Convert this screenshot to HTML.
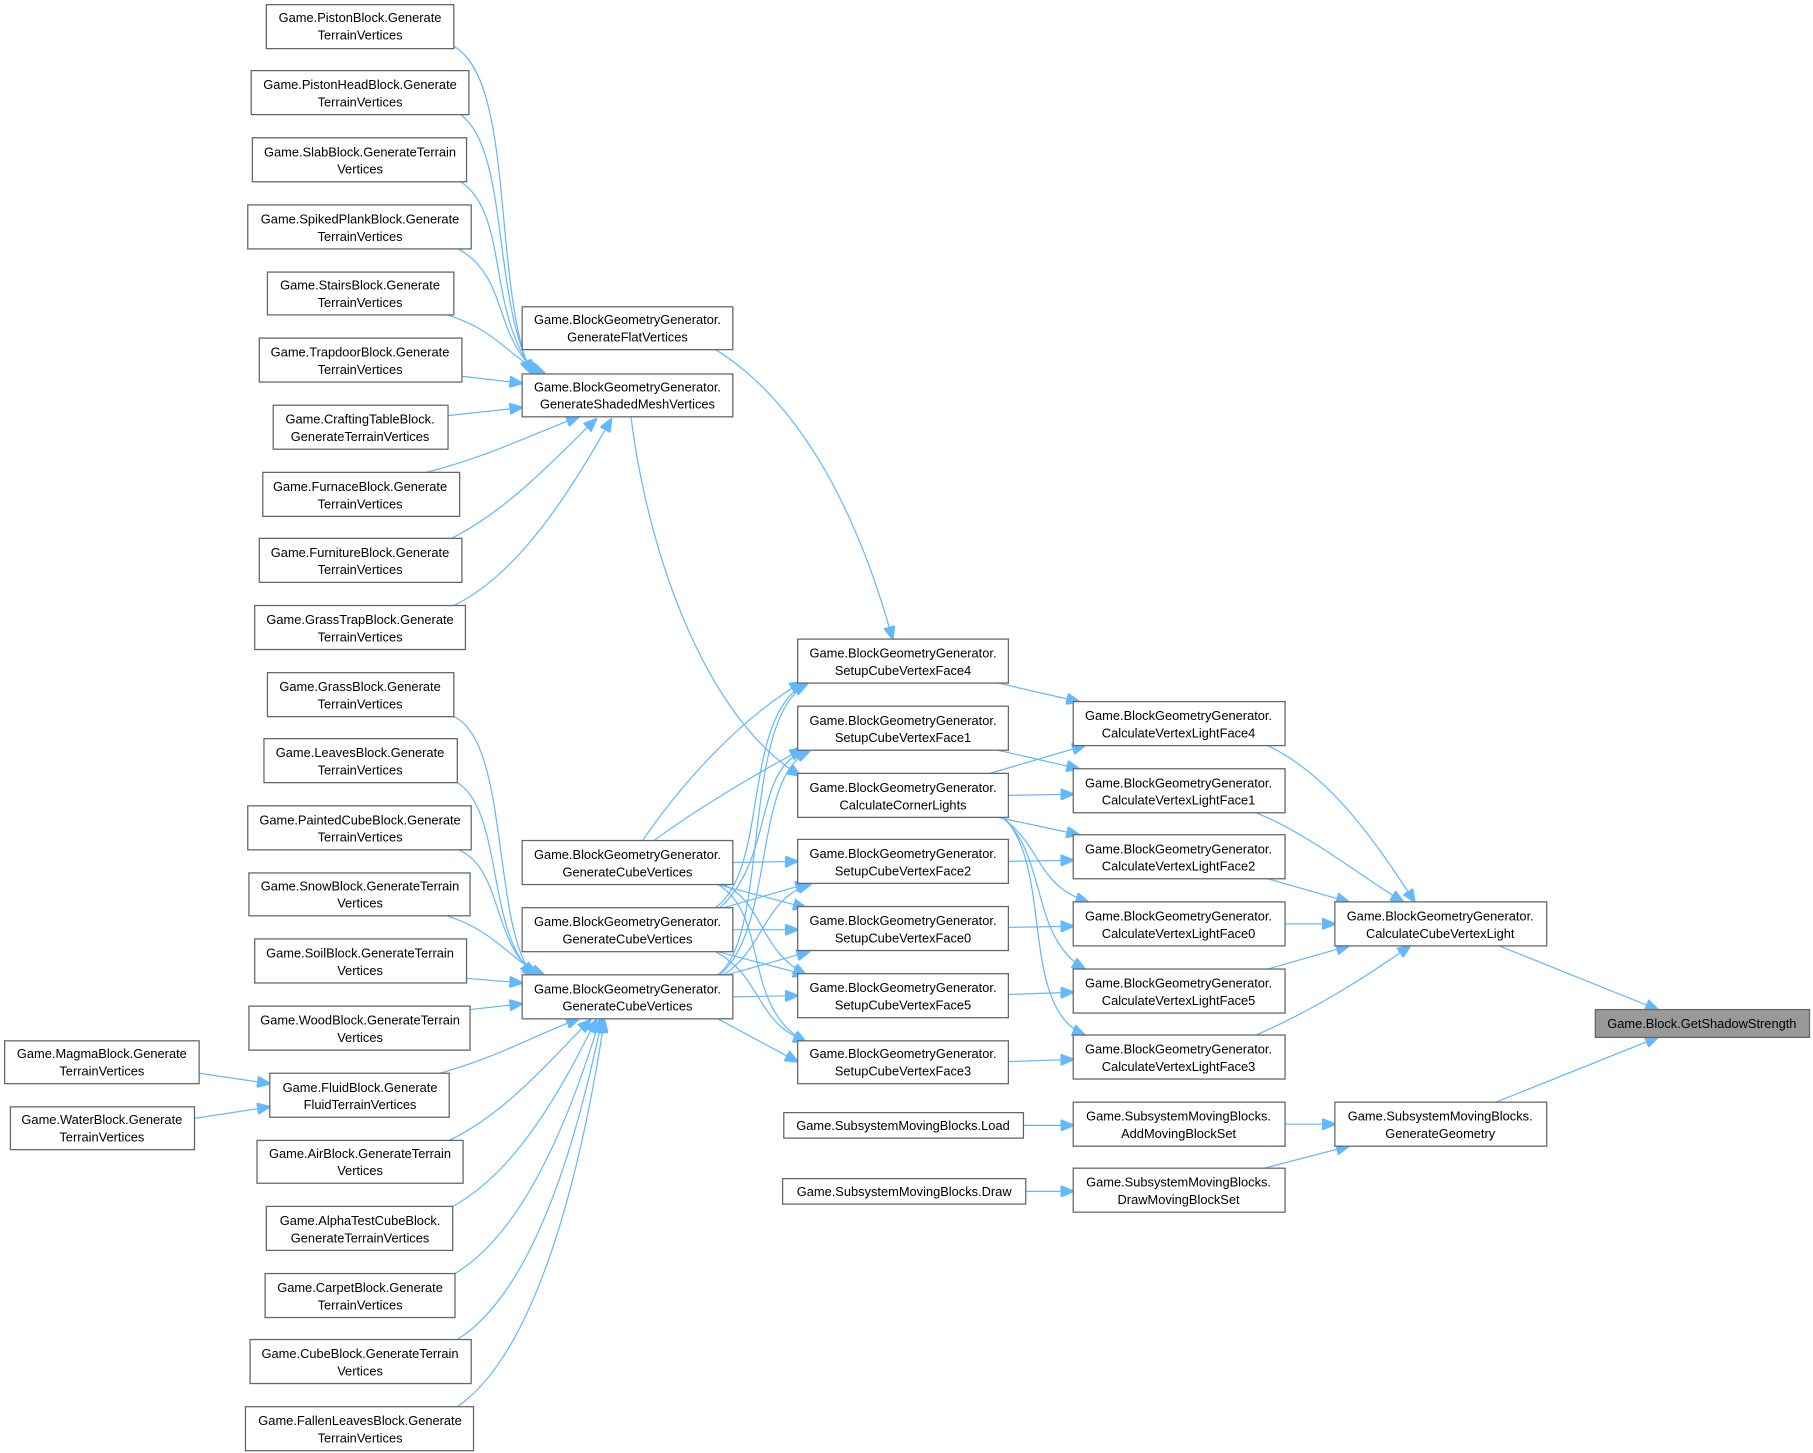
<!DOCTYPE html>
<html><head><meta charset="utf-8"><style>
html,body{margin:0;padding:0;background:#fff;}
svg{display:block;}
text{font-family:"Liberation Sans",Arial,sans-serif;font-size:11.1px;fill:#000;text-anchor:middle;}
.n{fill:#fff;stroke:#666;stroke-width:1.1;}
.e{fill:none;stroke:#63b8ff;stroke-width:1.05;}
</style></head><body>
<svg width="1813" height="1453" viewBox="0 0 1566 1255" preserveAspectRatio="none" xmlns="http://www.w3.org/2000/svg">
<defs>
<marker id="a" markerWidth="12" markerHeight="10" refX="11" refY="5" orient="auto" markerUnits="userSpaceOnUse">
<path d="M0,0 L12,5 L0,10 Z" fill="#63b8ff" stroke="#63b8ff"/>
</marker>
</defs>
<g class="edges">
<!-- into ShadedMesh -->
<path class="e" marker-end="url(#a)" d="M392,40 C445,70 425,240 458,322"/>
<path class="e" marker-end="url(#a)" d="M398,99 C440,130 425,260 460,322"/>
<path class="e" marker-end="url(#a)" d="M398,157 C440,185 420,270 462,322"/>
<path class="e" marker-end="url(#a)" d="M396,215 C440,240 425,290 465,322"/>
<path class="e" marker-end="url(#a)" d="M386,272 C430,285 440,310 470,322"/>
<path class="e" d="M399,325 L451,331" marker-end="url(#a)"/>
<path class="e" d="M387,359 L451,352" marker-end="url(#a)"/>
<path class="e" d="M368,408 C420,395 460,375 500,360" marker-end="url(#a)"/>
<path class="e" d="M390,465 C440,440 480,395 515,362" marker-end="url(#a)"/>
<path class="e" d="M392,523 C450,495 495,420 528,362" marker-end="url(#a)"/>
<!-- ShadedMesh -> CornerLights, Flat -> Face4 -->
<path class="e" d="M545,360 C560,480 610,620 691,670" marker-end="url(#a)"/>
<path class="e" d="M615,300 C690,345 740,440 771,552" marker-end="url(#a)"/>
<!-- into GCV C -->
<path class="e" marker-end="url(#a)" d="M392,619 C440,640 425,800 460,842"/>
<path class="e" marker-end="url(#a)" d="M395,676 C435,700 420,810 462,842"/>
<path class="e" marker-end="url(#a)" d="M396,734 C435,750 425,820 465,842"/>
<path class="e" marker-end="url(#a)" d="M386,791 C430,805 440,830 470,842"/>
<path class="e" d="M403,845 L451,849" marker-end="url(#a)"/>
<path class="e" d="M406,872 L451,867" marker-end="url(#a)"/>
<path class="e" d="M380,927 C430,913 460,895 500,880" marker-end="url(#a)"/>
<path class="e" d="M388,985 C440,960 480,910 510,881" marker-end="url(#a)"/>
<path class="e" d="M391,1042 C450,1010 490,930 515,881" marker-end="url(#a)"/>
<path class="e" d="M393,1100 C460,1060 500,940 518,881" marker-end="url(#a)"/>
<path class="e" d="M395,1157 C470,1110 505,950 520,881" marker-end="url(#a)"/>
<path class="e" d="M395,1215 C475,1160 510,960 522,881" marker-end="url(#a)"/>
<path class="e" d="M172,927 L233,936" marker-end="url(#a)"/>
<path class="e" d="M168,966 L233,956" marker-end="url(#a)"/>
<!-- GCV A -->
<path class="e" marker-end="url(#a)" d="M555,726 C590,675 640,620 693,589"/>
<path class="e" marker-end="url(#a)" d="M565,726 C600,700 650,670 693,647"/>
<path class="e" marker-end="url(#a)" d="M633,745 L689,744"/>
<path class="e" marker-end="url(#a)" d="M620,764 L696,784"/>
<path class="e" marker-end="url(#a)" d="M625,764 C660,780 655,820 696,842"/>
<path class="e" marker-end="url(#a)" d="M620,764 C665,790 640,870 696,900"/>
<!-- GCV B -->
<path class="e" marker-end="url(#a)" d="M618,784 C665,750 640,620 696,590"/>
<path class="e" marker-end="url(#a)" d="M622,784 C670,740 650,660 698,648"/>
<path class="e" marker-end="url(#a)" d="M625,784 L698,763"/>
<path class="e" marker-end="url(#a)" d="M633,803 L689,803"/>
<path class="e" marker-end="url(#a)" d="M620,822 L696,842"/>
<path class="e" marker-end="url(#a)" d="M618,822 C660,845 650,880 696,900"/>
<!-- GCV C -->
<path class="e" marker-end="url(#a)" d="M620,842 C665,810 640,620 697,591"/>
<path class="e" marker-end="url(#a)" d="M622,842 C670,800 650,670 699,649"/>
<path class="e" marker-end="url(#a)" d="M625,842 C660,820 660,775 700,764"/>
<path class="e" marker-end="url(#a)" d="M628,842 L699,822"/>
<path class="e" marker-end="url(#a)" d="M633,861 L689,860"/>
<path class="e" marker-end="url(#a)" d="M620,880 L689,917"/>
<!-- setup/corner -> CVLF -->
<path class="e" marker-end="url(#a)" d="M862,590 L932,606"/>
<path class="e" marker-end="url(#a)" d="M862,648 L932,664"/>
<path class="e" marker-end="url(#a)" d="M855,668 L937,644"/>
<path class="e" marker-end="url(#a)" d="M871,687 L927,686"/>
<path class="e" marker-end="url(#a)" d="M862,706 L932,721"/>
<path class="e" marker-end="url(#a)" d="M865,706 C900,730 895,765 940,779"/>
<path class="e" marker-end="url(#a)" d="M866,706 C905,740 890,810 937,837"/>
<path class="e" marker-end="url(#a)" d="M867,706 C910,750 880,870 937,894"/>
<path class="e" marker-end="url(#a)" d="M871,744 L927,743"/>
<path class="e" marker-end="url(#a)" d="M871,801 L927,800"/>
<path class="e" marker-end="url(#a)" d="M871,859 L927,857"/>
<path class="e" marker-end="url(#a)" d="M871,917 L927,915"/>
<!-- CVLF -> CCVL -->
<path class="e" marker-end="url(#a)" d="M1095,644 C1150,670 1190,730 1222,779"/>
<path class="e" marker-end="url(#a)" d="M1085,702 C1130,720 1180,760 1212,779"/>
<path class="e" marker-end="url(#a)" d="M1095,759 L1165,779"/>
<path class="e" marker-end="url(#a)" d="M1110,798 L1153,798"/>
<path class="e" marker-end="url(#a)" d="M1095,837 L1165,817"/>
<path class="e" marker-end="url(#a)" d="M1085,894 C1140,870 1185,840 1218,817"/>
<path class="e" marker-end="url(#a)" d="M1295,817 L1432,872"/>
<path class="e" marker-end="url(#a)" d="M1292,952 L1432,896"/>
<path class="e" marker-end="url(#a)" d="M884,972 L927,972"/>
<path class="e" marker-end="url(#a)" d="M886,1029 L927,1029"/>
<path class="e" marker-end="url(#a)" d="M1110,971 L1153,971"/>
<path class="e" marker-end="url(#a)" d="M1092,1009 L1165,990"/>
</g>
<g class="nodes">
<rect class="n" x="4" y="899" width="168" height="37"/><text x="88" y="914">Game.MagmaBlock.Generate</text><text x="88" y="929">TerrainVertices</text>
<rect class="n" x="9" y="956" width="159" height="37"/><text x="88" y="971">Game.WaterBlock.Generate</text><text x="88" y="986">TerrainVertices</text>

<rect class="n" x="230" y="4" width="162" height="38"/><text x="311" y="19">Game.PistonBlock.Generate</text><text x="311" y="34">TerrainVertices</text>
<rect class="n" x="217" y="61" width="188" height="38"/><text x="311" y="77">Game.PistonHeadBlock.Generate</text><text x="311" y="92">TerrainVertices</text>
<rect class="n" x="218" y="119" width="185" height="38"/><text x="311" y="135">Game.SlabBlock.GenerateTerrain</text><text x="311" y="150">Vertices</text>
<rect class="n" x="214" y="177" width="193" height="38"/><text x="311" y="193">Game.SpikedPlankBlock.Generate</text><text x="311" y="208">TerrainVertices</text>
<rect class="n" x="231" y="235" width="161" height="37"/><text x="311" y="250">Game.StairsBlock.Generate</text><text x="311" y="265">TerrainVertices</text>
<rect class="n" x="224" y="292" width="175" height="38"/><text x="311" y="308">Game.TrapdoorBlock.Generate</text><text x="311" y="323">TerrainVertices</text>
<rect class="n" x="236" y="350" width="151" height="38"/><text x="311" y="366">Game.CraftingTableBlock.</text><text x="311" y="381">GenerateTerrainVertices</text>
<rect class="n" x="227" y="408" width="170" height="38"/><text x="311" y="424">Game.FurnaceBlock.Generate</text><text x="311" y="439">TerrainVertices</text>
<rect class="n" x="224" y="465" width="175" height="38"/><text x="311" y="481">Game.FurnitureBlock.Generate</text><text x="311" y="496">TerrainVertices</text>
<rect class="n" x="220" y="523" width="182" height="38"/><text x="311" y="539">Game.GrassTrapBlock.Generate</text><text x="311" y="554">TerrainVertices</text>
<rect class="n" x="231" y="581" width="161" height="38"/><text x="311" y="597">Game.GrassBlock.Generate</text><text x="311" y="612">TerrainVertices</text>
<rect class="n" x="228" y="638" width="167" height="38"/><text x="311" y="654">Game.LeavesBlock.Generate</text><text x="311" y="669">TerrainVertices</text>
<rect class="n" x="214" y="696" width="193" height="38"/><text x="311" y="712">Game.PaintedCubeBlock.Generate</text><text x="311" y="727">TerrainVertices</text>
<rect class="n" x="215" y="754" width="191" height="37"/><text x="311" y="769">Game.SnowBlock.GenerateTerrain</text><text x="311" y="784">Vertices</text>
<rect class="n" x="220" y="811" width="183" height="38"/><text x="311" y="827">Game.SoilBlock.GenerateTerrain</text><text x="311" y="842">Vertices</text>
<rect class="n" x="215" y="869" width="191" height="38"/><text x="311" y="885">Game.WoodBlock.GenerateTerrain</text><text x="311" y="900">Vertices</text>
<rect class="n" x="233" y="927" width="155" height="38"/><text x="311" y="943">Game.FluidBlock.Generate</text><text x="311" y="958">FluidTerrainVertices</text>
<rect class="n" x="222" y="985" width="178" height="37"/><text x="311" y="1000">Game.AirBlock.GenerateTerrain</text><text x="311" y="1015">Vertices</text>
<rect class="n" x="230" y="1042" width="161" height="38"/><text x="311" y="1058">Game.AlphaTestCubeBlock.</text><text x="311" y="1073">GenerateTerrainVertices</text>
<rect class="n" x="229" y="1100" width="164" height="38"/><text x="311" y="1116">Game.CarpetBlock.Generate</text><text x="311" y="1131">TerrainVertices</text>
<rect class="n" x="216" y="1157" width="191" height="38"/><text x="311" y="1173">Game.CubeBlock.GenerateTerrain</text><text x="311" y="1188">Vertices</text>
<rect class="n" x="212" y="1215" width="197" height="38"/><text x="311" y="1231">Game.FallenLeavesBlock.Generate</text><text x="311" y="1246">TerrainVertices</text>

<rect class="n" x="451" y="265" width="182" height="37"/><text x="542" y="280">Game.BlockGeometryGenerator.</text><text x="542" y="295">GenerateFlatVertices</text>
<rect class="n" x="451" y="323" width="182" height="37"/><text x="542" y="338">Game.BlockGeometryGenerator.</text><text x="542" y="353">GenerateShadedMeshVertices</text>
<rect class="n" x="451" y="726" width="182" height="38"/><text x="542" y="742">Game.BlockGeometryGenerator.</text><text x="542" y="757">GenerateCubeVertices</text>
<rect class="n" x="451" y="784" width="182" height="38"/><text x="542" y="800">Game.BlockGeometryGenerator.</text><text x="542" y="815">GenerateCubeVertices</text>
<rect class="n" x="451" y="842" width="182" height="38"/><text x="542" y="858">Game.BlockGeometryGenerator.</text><text x="542" y="873">GenerateCubeVertices</text>

<rect class="n" x="689" y="552" width="182" height="38"/><text x="780" y="568">Game.BlockGeometryGenerator.</text><text x="780" y="583">SetupCubeVertexFace4</text>
<rect class="n" x="689" y="610" width="182" height="38"/><text x="780" y="626">Game.BlockGeometryGenerator.</text><text x="780" y="641">SetupCubeVertexFace1</text>
<rect class="n" x="689" y="668" width="182" height="38"/><text x="780" y="684">Game.BlockGeometryGenerator.</text><text x="780" y="699">CalculateCornerLights</text>
<rect class="n" x="689" y="725" width="182" height="38"/><text x="780" y="741">Game.BlockGeometryGenerator.</text><text x="780" y="756">SetupCubeVertexFace2</text>
<rect class="n" x="689" y="783" width="182" height="38"/><text x="780" y="799">Game.BlockGeometryGenerator.</text><text x="780" y="814">SetupCubeVertexFace0</text>
<rect class="n" x="689" y="841" width="182" height="38"/><text x="780" y="857">Game.BlockGeometryGenerator.</text><text x="780" y="872">SetupCubeVertexFace5</text>
<rect class="n" x="689" y="899" width="182" height="37"/><text x="780" y="914">Game.BlockGeometryGenerator.</text><text x="780" y="929">SetupCubeVertexFace3</text>
<rect class="n" x="677" y="961" width="207" height="22"/><text x="780" y="976">Game.SubsystemMovingBlocks.Load</text>
<rect class="n" x="676" y="1018" width="210" height="22"/><text x="781" y="1033">Game.SubsystemMovingBlocks.Draw</text>

<rect class="n" x="927" y="606" width="183" height="38"/><text x="1018" y="622">Game.BlockGeometryGenerator.</text><text x="1018" y="637">CalculateVertexLightFace4</text>
<rect class="n" x="927" y="664" width="183" height="38"/><text x="1018" y="680">Game.BlockGeometryGenerator.</text><text x="1018" y="695">CalculateVertexLightFace1</text>
<rect class="n" x="927" y="721" width="183" height="38"/><text x="1018" y="737">Game.BlockGeometryGenerator.</text><text x="1018" y="752">CalculateVertexLightFace2</text>
<rect class="n" x="927" y="779" width="183" height="38"/><text x="1018" y="795">Game.BlockGeometryGenerator.</text><text x="1018" y="810">CalculateVertexLightFace0</text>
<rect class="n" x="927" y="837" width="183" height="38"/><text x="1018" y="853">Game.BlockGeometryGenerator.</text><text x="1018" y="868">CalculateVertexLightFace5</text>
<rect class="n" x="927" y="894" width="183" height="38"/><text x="1018" y="910">Game.BlockGeometryGenerator.</text><text x="1018" y="925">CalculateVertexLightFace3</text>
<rect class="n" x="927" y="952" width="183" height="38"/><text x="1018" y="968">Game.SubsystemMovingBlocks.</text><text x="1018" y="983">AddMovingBlockSet</text>
<rect class="n" x="927" y="1009" width="183" height="38"/><text x="1018" y="1025">Game.SubsystemMovingBlocks.</text><text x="1018" y="1040">DrawMovingBlockSet</text>

<rect class="n" x="1153" y="779" width="183" height="38"/><text x="1244" y="795">Game.BlockGeometryGenerator.</text><text x="1244" y="810">CalculateCubeVertexLight</text>
<rect class="n" x="1153" y="952" width="183" height="38"/><text x="1244" y="968">Game.SubsystemMovingBlocks.</text><text x="1244" y="983">GenerateGeometry</text>

<rect x="1378" y="872" width="185" height="24" fill="#999" stroke="#666" stroke-width="1.1"/><text x="1470" y="888">Game.Block.GetShadowStrength</text>
</g>
</svg>
</body></html>
